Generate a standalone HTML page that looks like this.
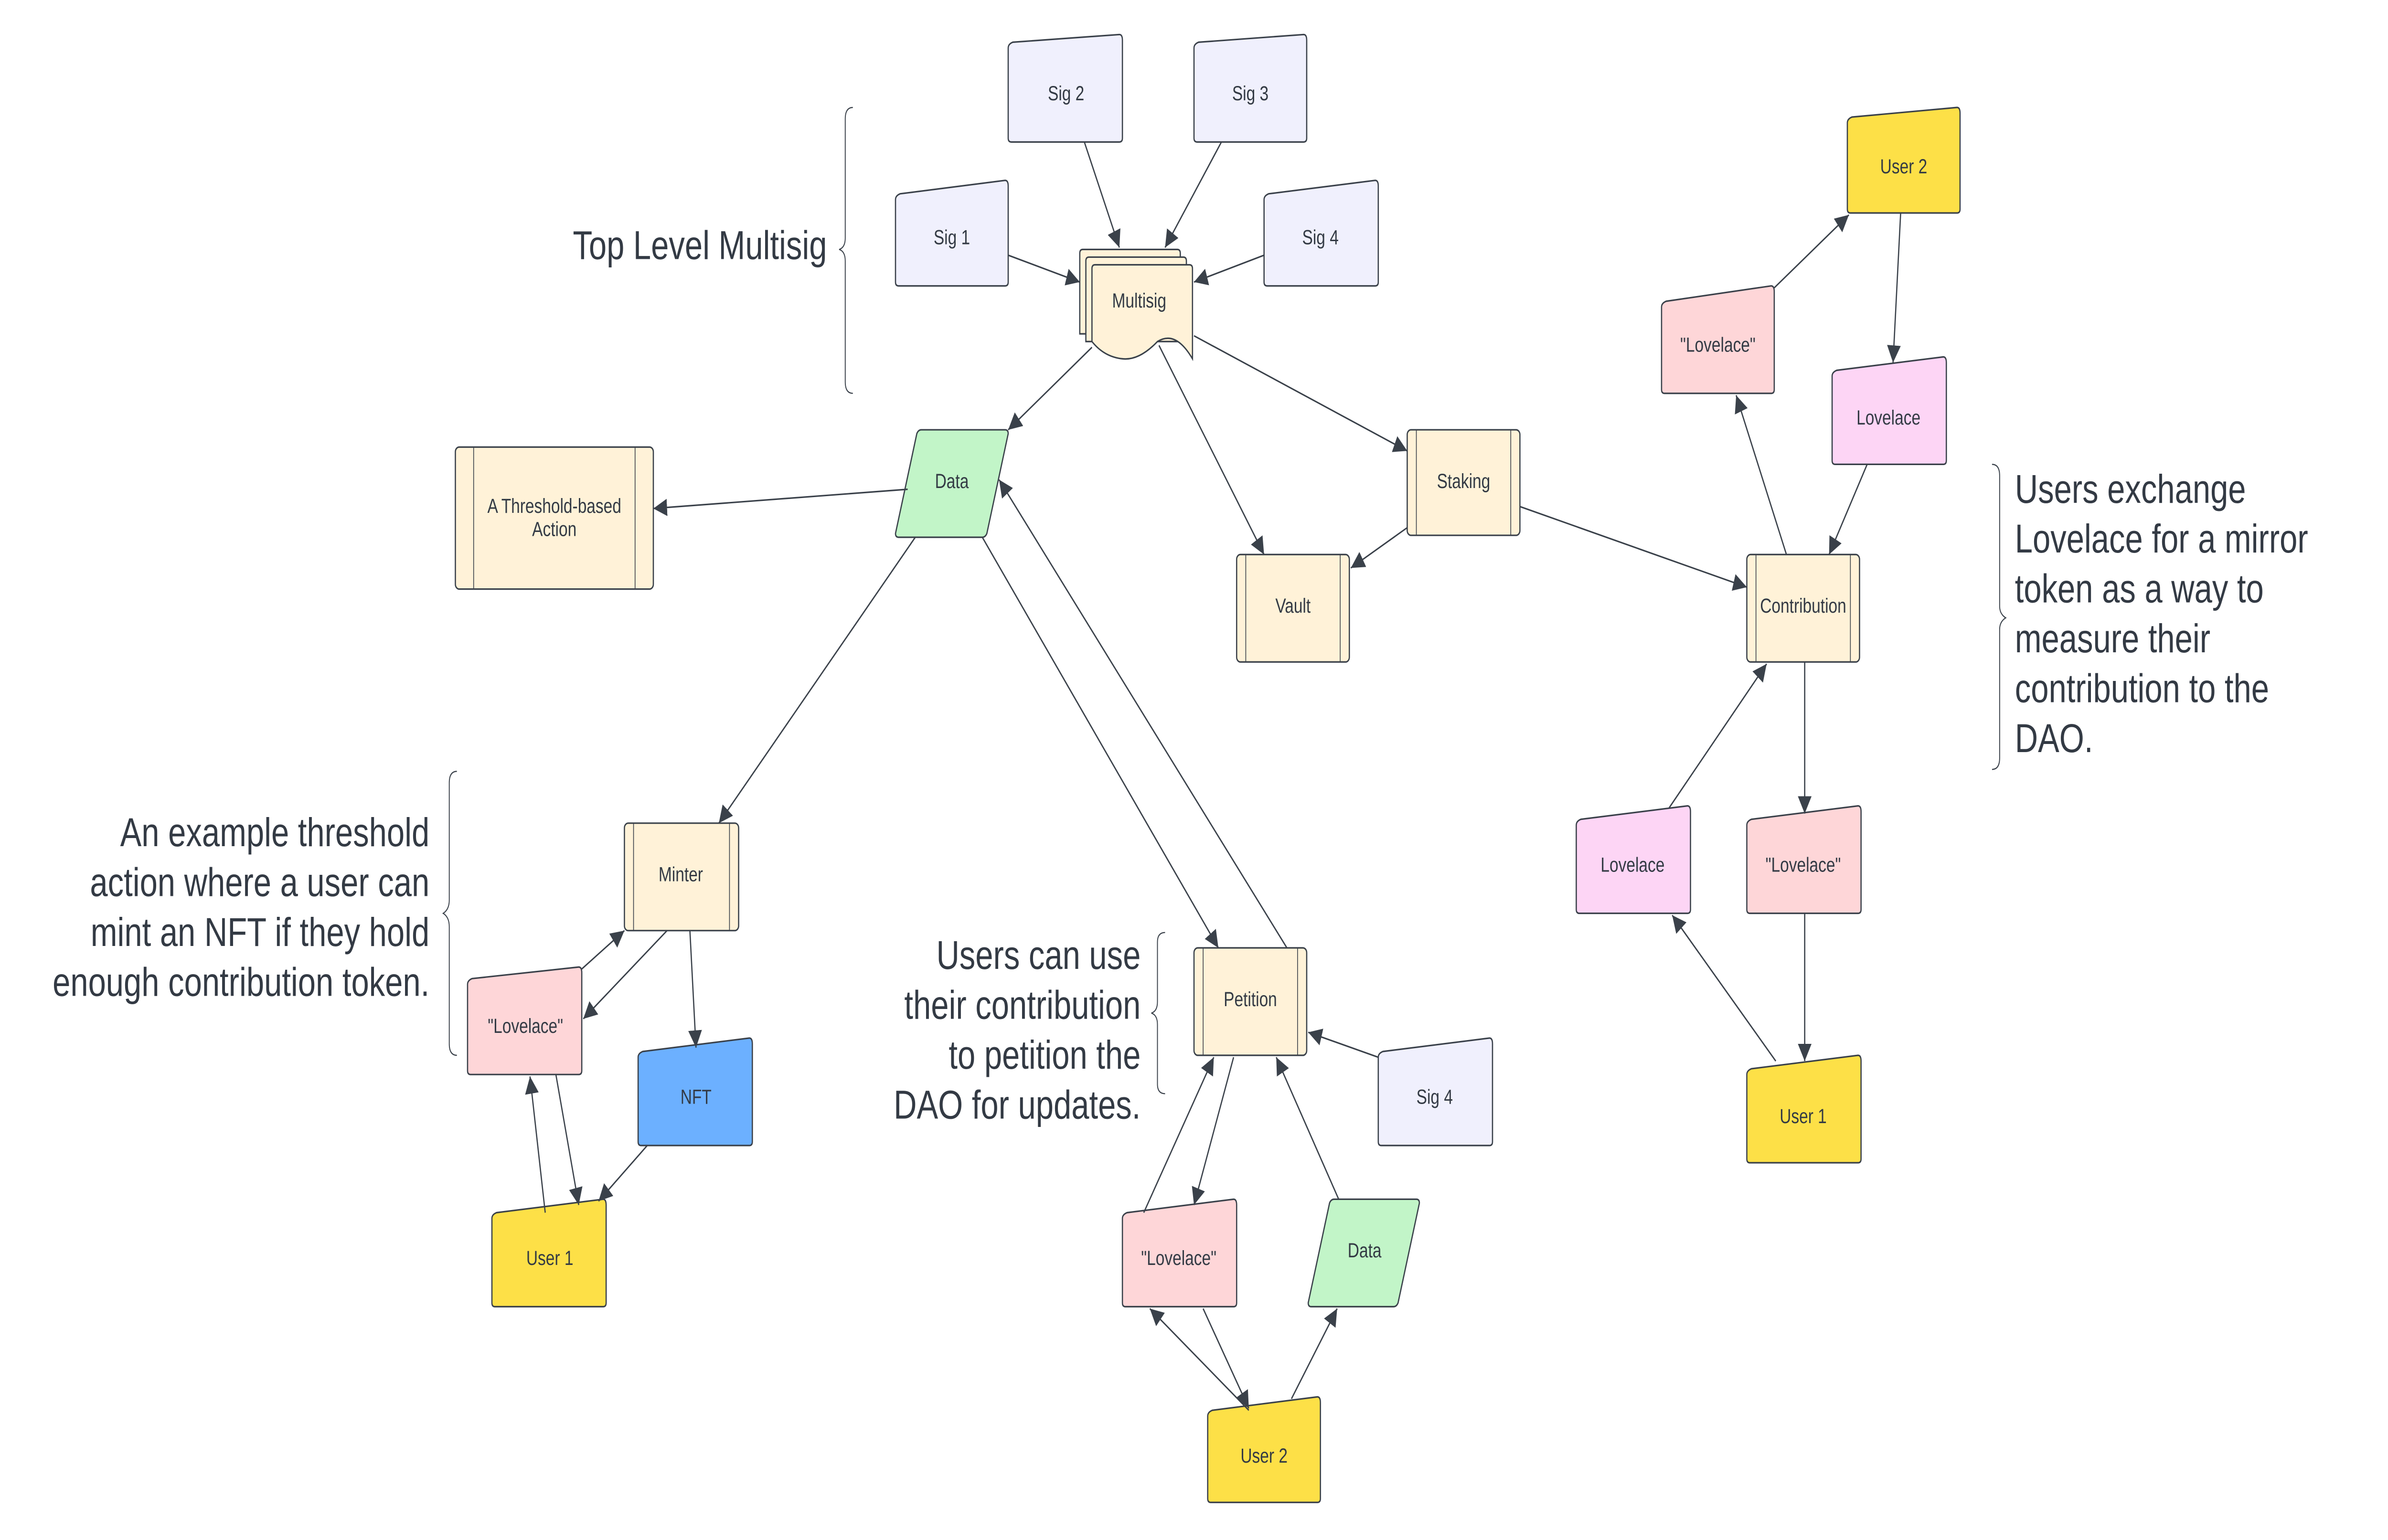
<!DOCTYPE html>
<html><head><meta charset="utf-8"><style>
html,body{margin:0;padding:0;background:#fff;width:100vw;height:100vh;overflow:hidden;}
svg{display:block;position:absolute;left:0;top:0;width:100vw;height:100vh;}
text{font-family:"Liberation Sans",sans-serif;fill:#333a44;}
.n{font-size:10.5px;text-anchor:middle;dominant-baseline:central;}
.b{font-size:21px;}
.e{stroke:#3a414a;stroke-width:0.8;fill:none;marker-end:url(#a);}
.s{stroke:#3a414a;stroke-width:0.8;}
</style></head><body>
<svg viewBox="0 0 1568 802.6" preserveAspectRatio="none" xmlns="http://www.w3.org/2000/svg">
<defs>
<marker id="a" viewBox="0 0 10 10" refX="10" refY="5" markerWidth="9" markerHeight="9" markerUnits="userSpaceOnUse" orient="auto"><path d="M0,0 L10,5 L0,10 z" fill="#3a414a"/></marker>
</defs>
<rect width="1568" height="802.6" fill="#fff"/>

<g class="s">
<path d="M662,25 Q662,23 665,22 L735,18 Q737,18 737,21 L737,72 Q737,74 735,74 L664,74 Q662,74 662,72 Z" fill="#f0f0fd"/>
<path d="M784,25 Q784,23 787,22 L856,18 Q858,18 858,21 L858,72 Q858,74 856,74 L786,74 Q784,74 784,72 Z" fill="#f0f0fd"/>
<path d="M588,104 Q588,102 591,101 L660,94 Q662,94 662,97 L662,147 Q662,149 660,149 L590,149 Q588,149 588,147 Z" fill="#f0f0fd"/>
<path d="M830,104 Q830,102 833,101 L903,94 Q905,94 905,97 L905,147 Q905,149 903,149 L832,149 Q830,149 830,147 Z" fill="#f0f0fd"/>
<path d="M1213,64 Q1213,62 1216,61 L1285,56 Q1287,56 1287,59 L1287,109 Q1287,111 1285,111 L1215,111 Q1213,111 1213,109 Z" fill="#fde047"/>
<path d="M1091,160 Q1091,158 1094,157 L1163,149 Q1165,149 1165,152 L1165,203 Q1165,205 1163,205 L1093,205 Q1091,205 1091,203 Z" fill="#fed6d8"/>
<path d="M1203,196 Q1203,194 1206,193 L1276,186 Q1278,186 1278,189 L1278,240 Q1278,242 1276,242 L1205,242 Q1203,242 1203,240 Z" fill="#fdd5f5"/>
<path d="M1035,430 Q1035,428 1038,427 L1108,420 Q1110,420 1110,423 L1110,474 Q1110,476 1108,476 L1037,476 Q1035,476 1035,474 Z" fill="#fdd5f5"/>
<path d="M1147,430 Q1147,428 1150,427 L1220,420 Q1222,420 1222,423 L1222,474 Q1222,476 1220,476 L1149,476 Q1147,476 1147,474 Z" fill="#fed6d8"/>
<path d="M1147,560 Q1147,558 1150,557 L1220,550 Q1222,550 1222,553 L1222,604 Q1222,606 1220,606 L1149,606 Q1147,606 1147,604 Z" fill="#fde047"/>
<path d="M307,513 Q307,511 310,510 L380,504 Q382,504 382,507 L382,558 Q382,560 380,560 L309,560 Q307,560 307,558 Z" fill="#fed6d8"/>
<path d="M419,551 Q419,549 422,548 L492,541 Q494,541 494,544 L494,595 Q494,597 492,597 L421,597 Q419,597 419,595 Z" fill="#6cb0ff"/>
<path d="M323,635 Q323,633 326,632 L396,625 Q398,625 398,628 L398,679 Q398,681 396,681 L325,681 Q323,681 323,679 Z" fill="#fde047"/>
<path d="M905,551 Q905,549 908,548 L978,541 Q980,541 980,544 L980,595 Q980,597 978,597 L907,597 Q905,597 905,595 Z" fill="#f0f0fd"/>
<path d="M737,635 Q737,633 740,632 L810,625 Q812,625 812,628 L812,679 Q812,681 810,681 L739,681 Q737,681 737,679 Z" fill="#fed6d8"/>
<path d="M793,738 Q793,736 796,735 L865,728 Q867,728 867,731 L867,781 Q867,783 865,783 L795,783 Q793,783 793,781 Z" fill="#fde047"/>
</g>

<g class="s" fill="#c2f5c8">
<path d="M605,224 L660,224 Q662,224 662,226 L648,278 Q647,280 645,280 L590,280 Q588,280 588,278 L602,226 Q603,224 605,224 Z"/>
<path d="M876,625 L930,625 Q932,625 932,627 L918,679 Q917,681 915,681 L861,681 Q859,681 859,679 L873,627 Q874,625 876,625 Z"/>
</g>

<g class="s" fill="#fff2d8">
<rect x="299" y="233" width="130" height="74" rx="2.5"/>
<rect x="924" y="224" width="74" height="55" rx="2.5"/>
<rect x="812" y="289" width="74" height="56" rx="2.5"/>
<rect x="1147" y="289" width="74" height="56" rx="2.5"/>
<rect x="410" y="429" width="75" height="56" rx="2.5"/>
<rect x="784" y="494" width="74" height="56" rx="2.5"/>
</g>
<g stroke="#3a414a" stroke-width="0.5">
<line x1="311" y1="233" x2="311" y2="307"/><line x1="417" y1="233" x2="417" y2="307"/>
<line x1="930" y1="224" x2="930" y2="279"/><line x1="992" y1="224" x2="992" y2="279"/>
<line x1="818" y1="289" x2="818" y2="345"/><line x1="880" y1="289" x2="880" y2="345"/>
<line x1="1153" y1="289" x2="1153" y2="345"/><line x1="1215" y1="289" x2="1215" y2="345"/>
<line x1="416" y1="429" x2="416" y2="485"/><line x1="479" y1="429" x2="479" y2="485"/>
<line x1="790" y1="494" x2="790" y2="550"/><line x1="852" y1="494" x2="852" y2="550"/>
</g>

<g class="s" fill="#fff2d8">
<path d="M711,130 L773,130 Q775,130 775,132 L775,174 L709,174 L709,132 Q709,130 711,130 Z"/>
<path d="M715,134 L777,134 Q779,134 779,136 L779,178 L713,178 L713,136 Q713,134 715,134 Z"/>
<path d="M719,138 L781,138 Q783,138 783,140 L783,187 Q772,172 760,178 Q748,188 737,187 Q725,186 717,178 L717,140 Q717,138 719,138 Z"/>
</g>

<text class="n" x="700" y="49">Sig 2</text>
<text class="n" x="821" y="49">Sig 3</text>
<text class="n" x="625" y="124">Sig 1</text>
<text class="n" x="867" y="124">Sig 4</text>
<text class="n" x="748" y="157">Multisig</text>
<text class="n" x="625" y="251">Data</text>
<text class="n" x="364" y="264">A Threshold-based</text>
<text class="n" x="364" y="276">Action</text>
<text class="n" x="961" y="251">Staking</text>
<text class="n" x="849" y="316">Vault</text>
<text class="n" x="1184" y="316">Contribution</text>
<text class="n" x="1250" y="87">User 2</text>
<text class="n" x="1128" y="180">"Lovelace"</text>
<text class="n" x="1240" y="218">Lovelace</text>
<text class="n" x="1072" y="451">Lovelace</text>
<text class="n" x="1184" y="451">"Lovelace"</text>
<text class="n" x="1184" y="582">User 1</text>
<text class="n" x="447" y="456">Minter</text>
<text class="n" x="345" y="535">"Lovelace"</text>
<text class="n" x="457" y="572">NFT</text>
<text class="n" x="361" y="656">User 1</text>
<text class="n" x="821" y="521">Petition</text>
<text class="n" x="942" y="572">Sig 4</text>
<text class="n" x="774" y="656">"Lovelace"</text>
<text class="n" x="896" y="652">Data</text>
<text class="n" x="830" y="759">User 2</text>

<g class="e">
<path d="M712,74 L735,129"/>
<path d="M802,74 L765,129"/>
<path d="M662,133 L709,147"/>
<path d="M830,133 L784,147"/>
<path d="M717,181 L662,224"/>
<path d="M761,180 L830,289"/>
<path d="M784,175 L924,235"/>
<path d="M596,255 L429,265"/>
<path d="M924,275 L887,296"/>
<path d="M998,264 L1147,306"/>
<path d="M601,280 L472,429"/>
<path d="M645,280 L800,494"/>
<path d="M845,494 L656,250"/>
<path d="M1173,289 L1140,206"/>
<path d="M1165,150 L1214,112"/>
<path d="M1248,111 L1243,189"/>
<path d="M1226,242 L1201,289"/>
<path d="M1185,345 L1185,424"/>
<path d="M1185,476 L1185,553"/>
<path d="M1166,553 L1098,477"/>
<path d="M1096,421 L1160,346"/>
<path d="M382,505 L410,485"/>
<path d="M438,485 L383,531"/>
<path d="M453,485 L457,546"/>
<path d="M425,597 L393,626"/>
<path d="M365,560 L380,628"/>
<path d="M358,632 L348,561"/>
<path d="M905,551 L859,538"/>
<path d="M751,632 L797,551"/>
<path d="M810,551 L784,628"/>
<path d="M879,625 L838,551"/>
<path d="M820,735 L755,682"/>
<path d="M790,682 L820,734"/>
<path d="M848,729 L878,682"/>
</g>

<g stroke="#3a414a" stroke-width="0.6" fill="none">
<path d="M560,56 Q555,56 555,62 L555,124 Q555,129 551,130 Q555,131 555,136 L555,199 Q555,205 560,205"/>
<path d="M300,402 Q295,402 295,408 L295,469 Q295,474 291,476 Q295,478 295,483 L295,544 Q295,550 300,550"/>
<path d="M765,486 Q760,486 760,491 L760,522 Q760,527 756,528 Q760,529 760,534 L760,565 Q760,570 765,570"/>
<path d="M1308,242 Q1313,242 1313,248 L1313,316 Q1313,320 1317,322 Q1313,324 1313,328 L1313,395 Q1313,401 1308,401"/>
</g>

<text class="b" x="543" y="135" text-anchor="end">Top Level Multisig</text>
<text class="b" x="282" y="441" text-anchor="end">An example threshold</text>
<text class="b" x="282" y="467" text-anchor="end">action where a user can</text>
<text class="b" x="282" y="493" text-anchor="end">mint an NFT if they hold</text>
<text class="b" x="282" y="519" text-anchor="end">enough contribution token.</text>
<text class="b" x="749" y="505" text-anchor="end">Users can use</text>
<text class="b" x="749" y="531" text-anchor="end">their contribution</text>
<text class="b" x="749" y="557" text-anchor="end">to petition the</text>
<text class="b" x="749" y="583" text-anchor="end">DAO for updates.</text>
<text class="b" x="1323" y="262">Users exchange</text>
<text class="b" x="1323" y="288">Lovelace for a mirror</text>
<text class="b" x="1323" y="314">token as a way to</text>
<text class="b" x="1323" y="340">measure their</text>
<text class="b" x="1323" y="366">contribution to the</text>
<text class="b" x="1323" y="392">DAO.</text>
</svg>
</body></html>
